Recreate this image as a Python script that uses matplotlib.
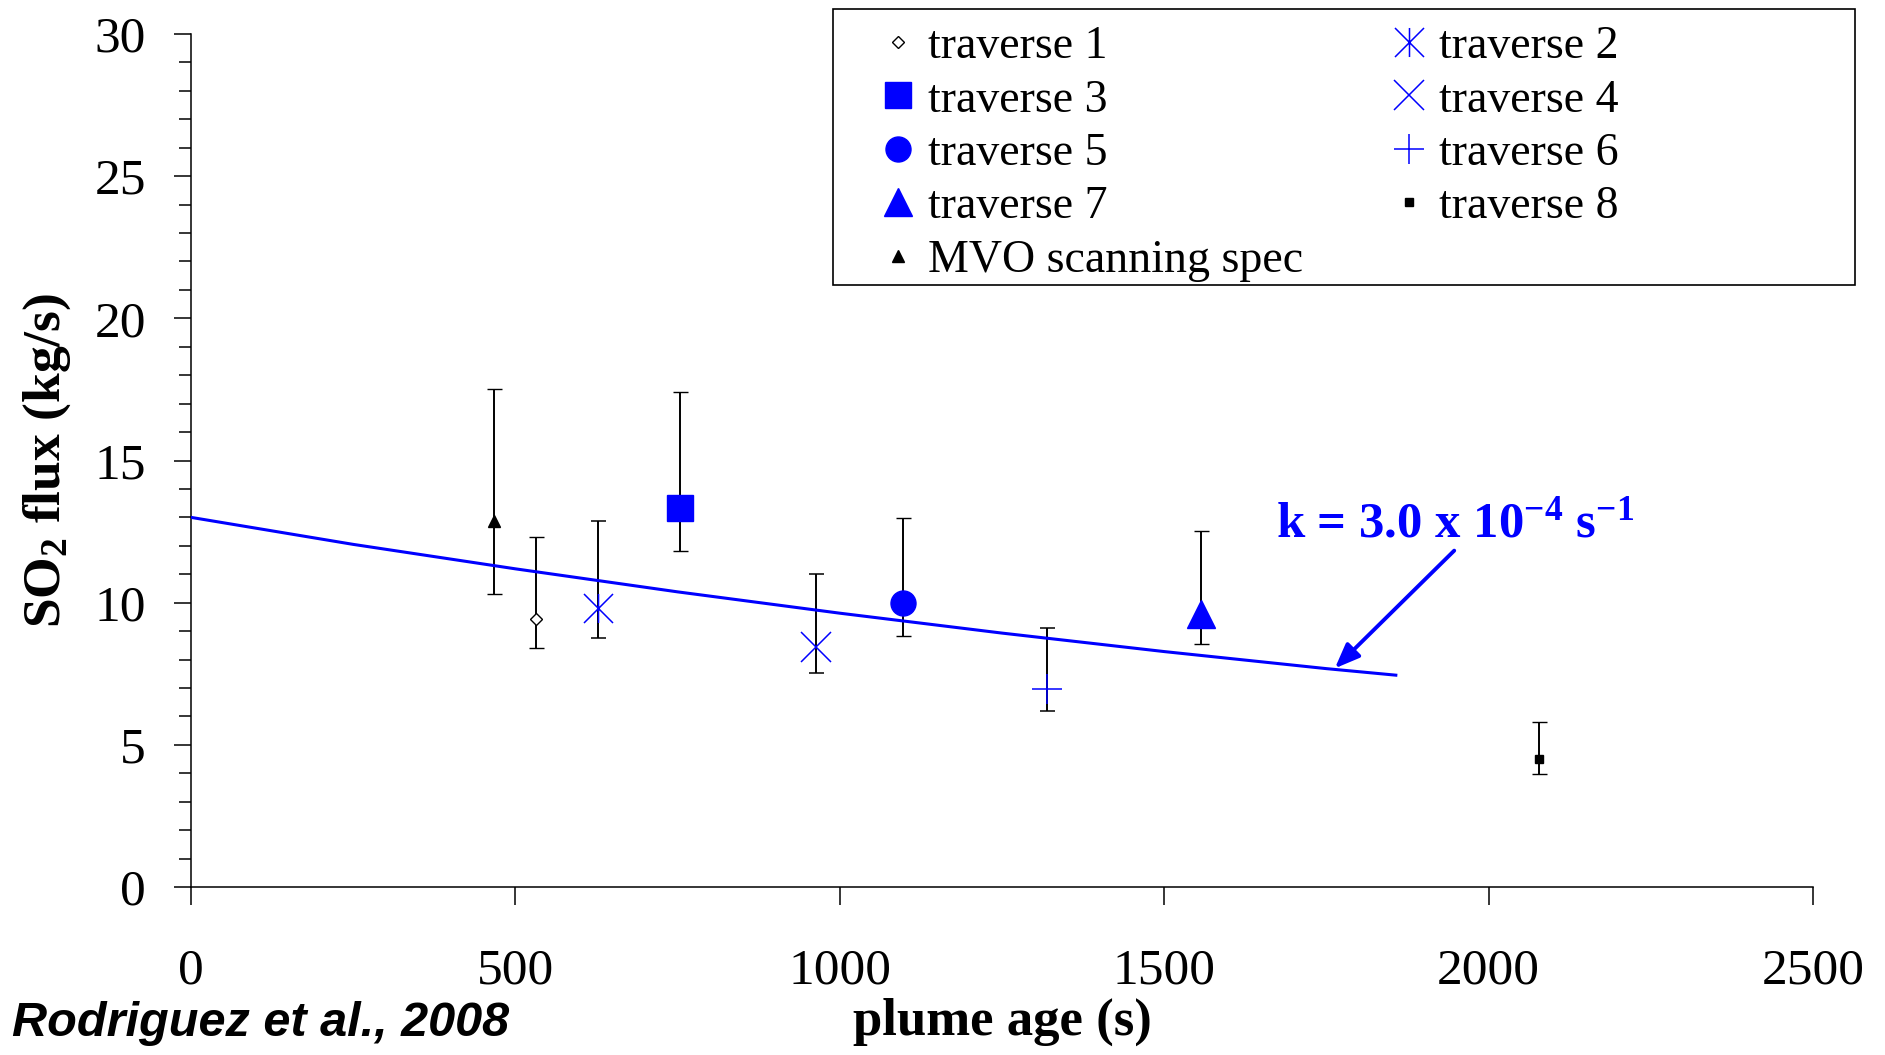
import numpy as np
import matplotlib
matplotlib.use('Agg')
import matplotlib.pyplot as plt
from matplotlib.path import Path
from matplotlib.patches import Rectangle
from matplotlib.ticker import MultipleLocator

plt.rcParams['font.family'] = ['Liberation Serif', 'DejaVu Serif']
plt.rcParams['mathtext.fontset'] = 'custom'
plt.rcParams['mathtext.rm'] = 'Liberation Serif'
plt.rcParams['mathtext.bf'] = 'Liberation Serif:bold'
plt.rcParams['mathtext.it'] = 'Liberation Serif:italic'

# ---------------- data ----------------
labels = ['traverse 1', 'traverse 2', 'traverse 3', 'traverse 4', 'traverse 5',
          'traverse 6', 'traverse 7', 'traverse 8', 'MVO scanning spec']
plume_age = [532, 627, 753, 963, 1097, 1320, 1557, 2078, 467]
so2_flux = [9.43, 9.80, 13.33, 8.44, 9.98, 6.98, 9.60, 4.49, 12.86]
flux_low = [8.39, 8.77, 11.83, 7.51, 8.84, 6.20, 8.56, 3.97, 10.30]
flux_high = [12.32, 12.87, 17.40, 11.01, 12.99, 9.10, 12.53, 5.81, 17.51]

fit_age = [0, 250, 500, 750, 1000, 1250, 1500, 1750, 1857]
fit_flux = [13.00, 12.05, 11.19, 10.38, 9.63, 8.93, 8.28, 7.68, 7.45]

annot_text = r'k = 3.0 x 10$^{\mathbf{-4}}$ s$^{\mathbf{-1}}$'
x_ticks = [0, 500, 1000, 1500, 2000, 2500]
y_ticks = [0, 5, 10, 15, 20, 25, 30]

# ---------------- styles ----------------
BLUE = '#0000FF'
asterisk = Path([(-0.5, -0.5), (0.5, 0.5), (-0.5, 0.5), (0.5, -0.5), (0, -0.5), (0, 0.5)],
                [Path.MOVETO, Path.LINETO, Path.MOVETO, Path.LINETO, Path.MOVETO, Path.LINETO])
styles = [
    dict(marker='D', ms=6.5, mfc='white', mec='black', mew=1.0),
    dict(marker=asterisk, ms=20.9, mfc='none', mec=BLUE, mew=1.1),
    dict(marker='s', ms=19, mfc=BLUE, mec=BLUE, mew=1.0),
    dict(marker='x', ms=20.9, mfc='none', mec=BLUE, mew=1.1),
    dict(marker='o', ms=18, mfc=BLUE, mec=BLUE, mew=1.0),
    dict(marker='+', ms=20.9, mfc='none', mec=BLUE, mew=1.1),
    dict(marker='^', ms=20, mfc=BLUE, mec=BLUE, mew=1.0),
    dict(marker='s', ms=6.2, mfc='black', mec='black', mew=1.0),
    dict(marker='^', ms=9, mfc='black', mec='black', mew=1.0),
]

W, H = 1885, 1055
fig = plt.figure(figsize=(W / 100, H / 100), dpi=100)
ax_l, ax_r, ax_t, ax_b = 191, 1813, 34, 887
ax = fig.add_axes([ax_l / W, 1 - ax_b / H, (ax_r - ax_l) / W, (ax_b - ax_t) / H])

handles = []
for i in range(len(labels)):
    lo = so2_flux[i] - flux_low[i]
    hi = flux_high[i] - so2_flux[i]
    cont = ax.errorbar([plume_age[i]], [so2_flux[i]], yerr=[[lo], [hi]],
                       linestyle='none', ecolor='black', elinewidth=1.4,
                       capsize=5.4, capthick=1.4, zorder=3, **styles[i])
    handles.append(cont.lines[0])

ax.plot(fit_age, fit_flux, color=BLUE, lw=2.2, zorder=4)

ax.annotate('', xy=(1763, 7.69), xytext=(1947, 11.83),
            arrowprops=dict(arrowstyle='-|>,head_length=0.5,head_width=0.2',
                            mutation_scale=30, color=BLUE, lw=2.8,
                            shrinkA=0, shrinkB=0), zorder=5)
ax.text(1672, 12.32, annot_text, color=BLUE, fontsize=36.5, fontweight='bold',
        ha='left', va='baseline')

ax.set_xlim(0, 2500)
ax.set_ylim(0, 30)
ax.set_xticks(x_ticks)
ax.set_yticks(y_ticks)
ax.yaxis.set_minor_locator(MultipleLocator(1))
for s in ['top', 'right']:
    ax.spines[s].set_visible(False)
for s in ['left', 'bottom']:
    ax.spines[s].set_linewidth(1.1)
ax.tick_params(axis='y', which='major', direction='out', length=12.5, width=1.1,
               pad=20, labelsize=37)
ax.tick_params(axis='y', which='minor', direction='out', length=8.6, width=1.1)
ax.tick_params(axis='x', which='major', direction='out', length=12.7, width=1.1,
               pad=31, labelsize=37)

ax.set_ylabel(r'SO$_{\mathbf{2}}$ flux (kg/s)', fontsize=38.5, fontweight='bold',
              va='center', ha='center')
ax.yaxis.set_label_coords((47 - ax_l) / (ax_r - ax_l), 0.5)
ax.set_xlabel('plume age (s)', fontsize=38, fontweight='bold', va='baseline')
ax.xaxis.set_label_coords(0.5, (ax_b - 1035) / (ax_b - ax_t))

fig.text(12 / W, 1 - 1036 / H, 'Rodriguez et al., 2008', family='Liberation Sans',
         weight='bold', style='italic', fontsize=35, ha='left', va='baseline')

# legend (box drawn separately)
fs = 33
order = [0, 2, 4, 6, 8, 1, 3, 5, 7]
fig.legend([handles[i] for i in order], [labels[i] for i in order], ncol=2,
           loc='upper left', bbox_to_anchor=(884 / W, 1 - 25.5 / H),
           frameon=False, fontsize=fs, handlelength=0.6, handletextpad=0.355,
           columnspacing=2.01, labelspacing=0.24, borderpad=0, borderaxespad=0,
           numpoints=1)
fig.add_artist(Rectangle((833 / W, 1 - 285 / H), (1855 - 833) / W, (285 - 9) / H,
                         transform=fig.transFigure, fill=False, ec='black', lw=1.2))

fig.savefig('out.png', dpi=100)
